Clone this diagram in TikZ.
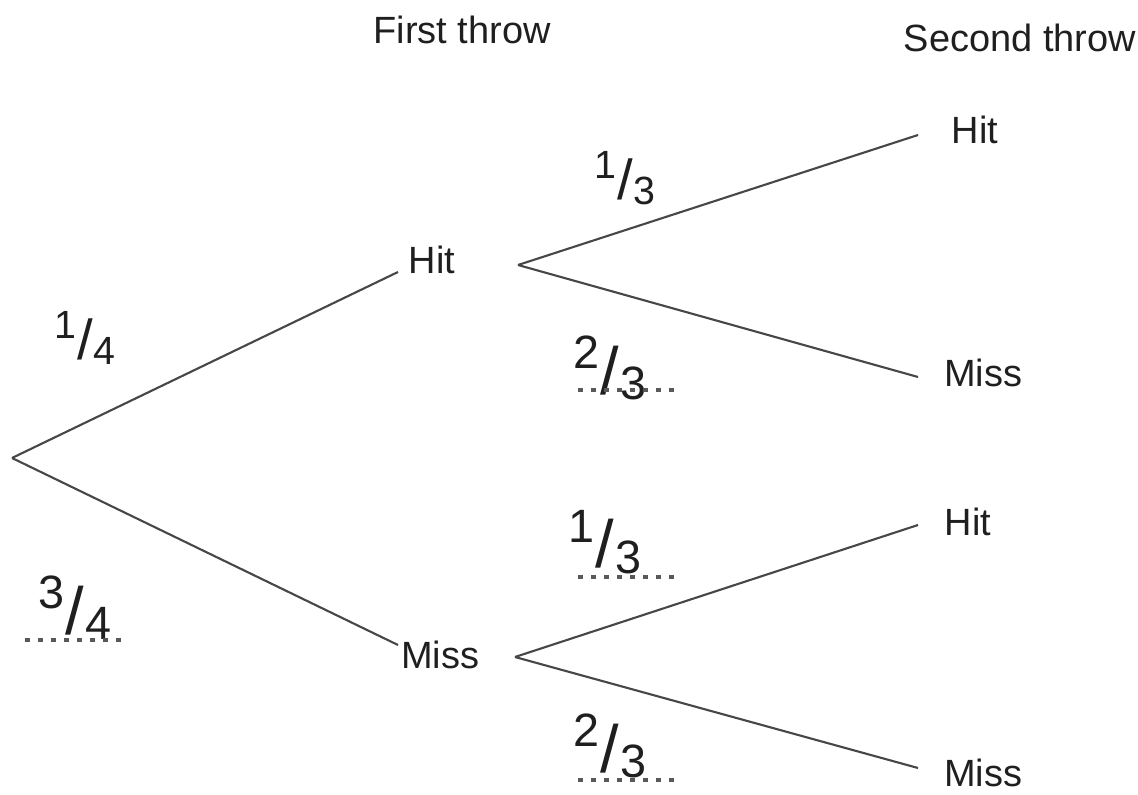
\documentclass[tikz,border=0pt]{standalone}
\usepackage{fontspec}
\setmainfont{Liberation Sans}
\newcommand{\slfrac}[2]{\raisebox{.38em}{\scalebox{.7}{#1}}\kern.02em/\kern.02em\raisebox{-.08em}{\scalebox{.7}{#2}}}
\begin{document}
\begin{tikzpicture}[
        branch/.style={draw=black!72, line width=0.6pt},
        answer/.style={draw=black!65, line width=1.1pt, dotted, dash pattern=on 1.3pt off 2.4pt},
        every node/.style={
            inner sep=0pt,
            font=\fontsize{10.8}{13}\selectfont,
            text=black!88
        },
        prob/.style={font=\fontsize{16}{19}\selectfont},
        hand/.style={font=\fontsize{19}{22}\selectfont}
    ]
    \useasboundingbox (0,0) rectangle (11.38,7.94);

    % Headings
    \node (first)  at (4.62,7.64) {First throw};
    \node (second) at (10.20,7.56) {Second throw};

    % Outcomes
    \node (hit)    at (4.32,5.34) {Hit};
    \node (miss)   at (4.40,1.39) {Miss};
    \node (hithit)   at (9.75,6.64) {Hit};
    \node (hitmiss)  at (9.83,4.21) {Miss};
    \node (misshit)  at (9.68,2.72) {Hit};
    \node (missmiss) at (9.83,0.21) {Miss};

    % Branch ends
    \coordinate (root)  at (0.12,3.36);
    \coordinate (hitL)  at (3.98,5.22);
    \coordinate (hitR)  at (5.18,5.29);
    \coordinate (missL) at (3.98,1.49);
    \coordinate (missR) at (5.15,1.37);
    \coordinate (hhE) at (9.18,6.59);
    \coordinate (hmE) at (9.18,4.17);
    \coordinate (mhE) at (9.18,2.69);
    \coordinate (mmE) at (9.18,0.26);

    % Branches
    \draw[branch] (root) -- (hitL);
    \draw[branch] (root) -- (missL);
    \draw[branch] (hitR) -- (hhE);
    \draw[branch] (hitR) -- (hmE);
    \draw[branch] (missR) -- (mhE);
    \draw[branch] (missR) -- (mmE);

    % Probabilities
    \node[prob] (pH)   at (0.85,4.56) {\slfrac{1}{4}};
    \node[prob] (pHH)  at (6.25,6.16) {\slfrac{1}{3}};
    \node[hand] (pM)   at (0.75,1.86) {\slfrac{3}{4}};
    \node[hand] (pHM)  at (6.10,4.26) {\slfrac{2}{3}};
    \node[hand] (pMH)  at (6.05,2.52) {\slfrac{1}{3}};
    \node[hand] (pMM)  at (6.10,0.48) {\slfrac{2}{3}};

    % Answer lines
    \draw[answer] (0.25,1.54) -- (1.28,1.54);
    \draw[answer] (5.78,4.04) -- (6.80,4.04);
    \draw[answer] (5.78,2.17) -- (6.78,2.17);
    \draw[answer] (5.78,0.14) -- (6.78,0.14);

\end{tikzpicture}
\end{document}
